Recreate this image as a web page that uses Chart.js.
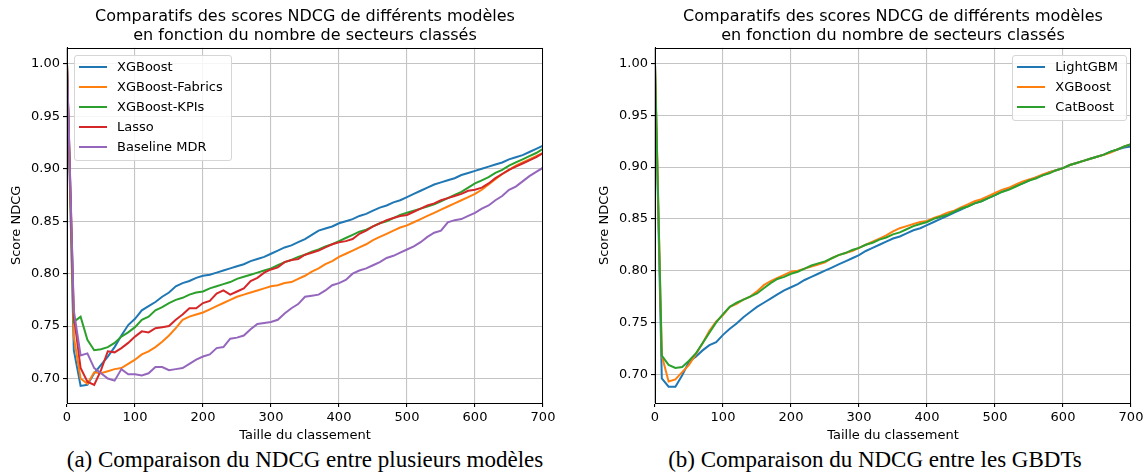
<!DOCTYPE html>
<html>
<head>
<meta charset="utf-8">
<script src="https://cdn.jsdelivr.net/npm/chart.js@4.4.0/dist/chart.umd.min.js"></script>
<style>
  body { margin: 0; background: #fff; width: 1147px; height: 474px; position: relative; overflow: hidden; font-family: "DejaVu Sans", sans-serif; }
  canvas { position: absolute; top: 0; }
  .cap { position: absolute; top: 447px; width: 560px; text-align: center; font-family: "Liberation Serif", serif; font-size: 23px; color: #000; white-space: nowrap; }
  .legend { position: absolute; top: 55px; background: rgba(255,255,255,0.85); border: 1px solid #d6d6d6; border-radius: 3px; padding: 1px 8px 3px 4px; font-size: 13px; color: #000; }
  .legend div { height: 20px; line-height: 20px; white-space: nowrap; }
  .legend span { display: inline-block; width: 28px; height: 2px; vertical-align: middle; margin-right: 10px; position: relative; top: -1px; }
</style>
</head>
<body>
<canvas id="left" width="560" height="445" style="left:0px"></canvas>
<canvas id="right" width="560" height="445" style="left:588px"></canvas>
<div class="legend" id="legLeft" style="left:74px"></div>
<div class="legend" id="legRight" style="right:20px"></div>
<div class="cap" id="capA" style="left:25px">(a) Comparaison du NDCG entre plusieurs modèles</div>
<div class="cap" id="capB" style="left:595px">(b) Comparaison du NDCG entre les GBDTs</div>
<script>
const titleLines = ['Comparatifs des scores NDCG de différents modèles', 'en fonction du nombre de secteurs classés'];
const xTicks = [0, 100, 200, 300, 400, 500, 600, 700];
const yTicks = [0.70, 0.75, 0.80, 0.85, 0.90, 0.95, 1.00];

// taille du classement (x)
const sizes = [0, 10, 20, 30, 40, 50, 60, 70, 80, 90, 100, 110, 120, 130, 140, 150, 160, 170, 180, 190,
  200, 210, 220, 230, 240, 250, 260, 270, 280, 290, 300, 310, 320, 330, 340, 350, 360, 370, 380, 390,
  400, 410, 420, 430, 440, 450, 460, 470, 480, 490, 500, 510, 520, 530, 540, 550, 560, 570, 580, 590,
  600, 610, 620, 630, 640, 650, 660, 670, 680, 690, 700];

// (a) several models
const modelsA = ['XGBoost', 'XGBoost-Fabrics', 'XGBoost-KPIs', 'Lasso', 'Baseline MDR'];
const xgboostA = [1.000, 0.727, 0.693, 0.694, 0.705, 0.713, 0.721, 0.730, 0.741, 0.751,
  0.757, 0.765, 0.769, 0.773, 0.778, 0.782, 0.788, 0.791, 0.793, 0.796,
  0.798, 0.799, 0.801, 0.803, 0.805, 0.807, 0.809, 0.812, 0.814, 0.816,
  0.819, 0.822, 0.825, 0.827, 0.830, 0.833, 0.837, 0.841, 0.843, 0.845,
  0.848, 0.850, 0.852, 0.855, 0.857, 0.860, 0.863, 0.865, 0.868, 0.870,
  0.873, 0.876, 0.879, 0.882, 0.885, 0.887, 0.889, 0.891, 0.894, 0.896,
  0.898, 0.900, 0.902, 0.904, 0.906, 0.909, 0.911, 0.913, 0.916, 0.919, 0.922];
const fabrics = [1.000, 0.740, 0.700, 0.695, 0.706, 0.705, 0.707, 0.709, 0.710, 0.714,
  0.718, 0.723, 0.726, 0.730, 0.735, 0.741, 0.748, 0.756, 0.759, 0.761,
  0.763, 0.766, 0.769, 0.772, 0.775, 0.778, 0.780, 0.782, 0.784, 0.786,
  0.788, 0.789, 0.791, 0.792, 0.795, 0.798, 0.802, 0.805, 0.809, 0.812,
  0.816, 0.819, 0.822, 0.825, 0.828, 0.832, 0.835, 0.838, 0.841, 0.844,
  0.846, 0.849, 0.852, 0.855, 0.858, 0.861, 0.864, 0.867, 0.870, 0.873,
  0.876, 0.880, 0.885, 0.890, 0.895, 0.899, 0.903, 0.906, 0.909, 0.912, 0.915];
const kpis = [1.000, 0.754, 0.759, 0.737, 0.727, 0.728, 0.730, 0.734, 0.740, 0.744,
  0.749, 0.756, 0.759, 0.765, 0.768, 0.772, 0.775, 0.777, 0.780, 0.782,
  0.783, 0.786, 0.788, 0.790, 0.792, 0.795, 0.797, 0.799, 0.801, 0.803,
  0.805, 0.808, 0.811, 0.813, 0.816, 0.818, 0.821, 0.823, 0.826, 0.828,
  0.831, 0.834, 0.837, 0.840, 0.842, 0.845, 0.848, 0.850, 0.853, 0.856,
  0.858, 0.860, 0.862, 0.864, 0.866, 0.869, 0.872, 0.875, 0.878, 0.882,
  0.886, 0.889, 0.892, 0.896, 0.899, 0.903, 0.906, 0.909, 0.912, 0.915, 0.919];
const lasso = [1.000, 0.760, 0.710, 0.697, 0.694, 0.708, 0.726, 0.725, 0.729, 0.734,
  0.740, 0.745, 0.744, 0.748, 0.749, 0.750, 0.756, 0.761, 0.767, 0.767,
  0.772, 0.774, 0.781, 0.784, 0.780, 0.783, 0.786, 0.793, 0.796, 0.801,
  0.804, 0.806, 0.811, 0.813, 0.814, 0.818, 0.820, 0.822, 0.825, 0.828,
  0.830, 0.831, 0.833, 0.838, 0.841, 0.845, 0.848, 0.851, 0.853, 0.855,
  0.856, 0.859, 0.862, 0.865, 0.867, 0.870, 0.872, 0.874, 0.876, 0.879,
  0.880, 0.882, 0.886, 0.891, 0.895, 0.899, 0.902, 0.905, 0.908, 0.911, 0.915];
const baseline = [1.000, 0.765, 0.722, 0.724, 0.710, 0.705, 0.700, 0.698, 0.709, 0.704,
  0.704, 0.703, 0.705, 0.711, 0.711, 0.708, 0.709, 0.710, 0.714, 0.718,
  0.721, 0.723, 0.729, 0.730, 0.738, 0.739, 0.741, 0.747, 0.752, 0.753,
  0.754, 0.756, 0.762, 0.767, 0.771, 0.778, 0.779, 0.780, 0.784, 0.789,
  0.791, 0.794, 0.800, 0.803, 0.805, 0.808, 0.811, 0.815, 0.817, 0.820,
  0.823, 0.826, 0.830, 0.835, 0.839, 0.841, 0.849, 0.851, 0.852, 0.855,
  0.858, 0.862, 0.865, 0.870, 0.874, 0.880, 0.883, 0.888, 0.893, 0.897, 0.901];

// (b) GBDTs
const modelsB = ['LightGBM', 'XGBoost', 'CatBoost'];
const lightgbm = [1.000, 0.696, 0.688, 0.688, 0.699, 0.712, 0.717, 0.723, 0.728, 0.731,
  0.738, 0.744, 0.749, 0.755, 0.760, 0.765, 0.769, 0.773, 0.777, 0.781,
  0.784, 0.787, 0.791, 0.794, 0.797, 0.800, 0.803, 0.806, 0.809, 0.812,
  0.815, 0.819, 0.822, 0.825, 0.828, 0.831, 0.833, 0.836, 0.839, 0.841,
  0.844, 0.847, 0.850, 0.853, 0.856, 0.859, 0.862, 0.865, 0.867, 0.870,
  0.873, 0.876, 0.879, 0.882, 0.884, 0.887, 0.890, 0.892, 0.895, 0.897,
  0.899, 0.902, 0.904, 0.906, 0.908, 0.910, 0.912, 0.915, 0.917, 0.919, 0.920];
const xgboostB = [1.000, 0.718, 0.693, 0.695, 0.702, 0.709, 0.719, 0.730, 0.742, 0.751,
  0.757, 0.765, 0.768, 0.772, 0.775, 0.780, 0.786, 0.790, 0.793, 0.796,
  0.799, 0.800, 0.802, 0.804, 0.806, 0.808, 0.812, 0.815, 0.817, 0.819,
  0.822, 0.825, 0.828, 0.831, 0.834, 0.838, 0.841, 0.843, 0.845, 0.847,
  0.848, 0.851, 0.853, 0.856, 0.858, 0.861, 0.864, 0.867, 0.869, 0.872,
  0.875, 0.878, 0.880, 0.883, 0.886, 0.888, 0.890, 0.893, 0.895, 0.897,
  0.899, 0.902, 0.904, 0.906, 0.908, 0.910, 0.912, 0.914, 0.917, 0.920, 0.922];
const catboost = [1.000, 0.718, 0.709, 0.706, 0.707, 0.713, 0.720, 0.730, 0.740, 0.750,
  0.758, 0.765, 0.769, 0.772, 0.775, 0.778, 0.783, 0.788, 0.792, 0.794,
  0.797, 0.799, 0.802, 0.805, 0.807, 0.809, 0.812, 0.815, 0.817, 0.820,
  0.822, 0.825, 0.827, 0.830, 0.832, 0.835, 0.837, 0.840, 0.843, 0.845,
  0.847, 0.850, 0.852, 0.854, 0.857, 0.860, 0.862, 0.865, 0.867, 0.870,
  0.873, 0.876, 0.878, 0.881, 0.884, 0.887, 0.889, 0.892, 0.894, 0.897,
  0.899, 0.902, 0.904, 0.906, 0.908, 0.910, 0.912, 0.915, 0.917, 0.920, 0.922];

const tab10 = ['#1f77b4', '#ff7f0e', '#2ca02c', '#d62728', '#9467bd'];

Chart.defaults.font.family = '"DejaVu Sans", sans-serif';
Chart.defaults.color = '#000';

// black box around the plot area, like matplotlib spines
const frame = {
  id: 'frame',
  afterDatasetsDraw(chart) {
    const a = chart.chartArea;
    const ctx = chart.ctx;
    ctx.save();
    ctx.strokeStyle = '#000';
    ctx.lineWidth = 1;
    ctx.strokeRect(Math.round(a.left) + 0.5, Math.round(a.top) + 0.5,
      Math.round(a.right - a.left) - 1, Math.round(a.bottom - a.top));
    ctx.restore();
  }
};

function makeChart(id, names, series, yMin, yMax, legendId) {
  const n = series.length;
  const datasets = series.map((s, i) => ({
    label: names[i],
    data: s.map((v, j) => ({ x: sizes[j], y: v })),
    borderColor: tab10[i],
    backgroundColor: tab10[i],
    borderWidth: 2,
    pointRadius: 0,
    tension: 0,
    order: n - 1 - i   // later series on top, like matplotlib
  }));
  const chart = new Chart(document.getElementById(id), {
    type: 'line',
    data: { datasets: datasets },
    plugins: [frame],
    options: {
      responsive: false,
      animation: false,
      layout: { padding: { left: 0, right: 17, top: 0, bottom: 0 } },
      plugins: {
        legend: { display: false },
        tooltip: { enabled: false },
        title: {
          display: true, text: titleLines, fullSize: false, color: '#000',
          font: { size: 16, weight: 'normal', lineHeight: 1.15 },
          padding: { top: 8, bottom: 3 }
        }
      },
      scales: {
        x: {
          type: 'linear', min: 0, max: 700,
          afterBuildTicks: s => { s.ticks = xTicks.map(v => ({ value: v })); },
          afterFit: s => { s.height = 42; },
          grid: { color: '#c4c4c4', lineWidth: 1.1, tickColor: '#000', tickLength: 4 },
          border: { color: '#000' },
          ticks: { font: { size: 13 }, color: '#000', padding: 3, maxRotation: 0, autoSkip: false },
          title: { display: true, text: 'Taille du classement', font: { size: 13 }, color: '#000', padding: { top: 4, bottom: 2 } }
        },
        y: {
          type: 'linear', min: yMin, max: yMax,
          afterBuildTicks: s => { s.ticks = yTicks.map(v => ({ value: v })); },
          afterFit: s => { s.width = 67; },
          grid: { color: '#c4c4c4', lineWidth: 1.1, tickColor: '#000', tickLength: 4 },
          border: { color: '#000' },
          ticks: { font: { size: 13 }, color: '#000', padding: 3, autoSkip: false, callback: v => v.toFixed(2) },
          title: { display: true, text: 'Score NDCG', font: { size: 13 }, color: '#000', padding: { top: 9, bottom: 0 } }
        }
      }
    }
  });
  const leg = document.getElementById(legendId);
  chart.data.datasets.forEach(ds => {
    const row = document.createElement('div');
    const sw = document.createElement('span');
    sw.style.background = ds.borderColor;
    row.appendChild(sw);
    row.appendChild(document.createTextNode(ds.label));
    leg.appendChild(row);
  });
  return chart;
}

makeChart('left', modelsA, [xgboostA, fabrics, kpis, lasso, baseline], 0.6767, 1.0153, 'legLeft');
makeChart('right', modelsB, [lightgbm, xgboostB, catboost], 0.6722, 1.0152, 'legRight');
</script>
</body>
</html>
